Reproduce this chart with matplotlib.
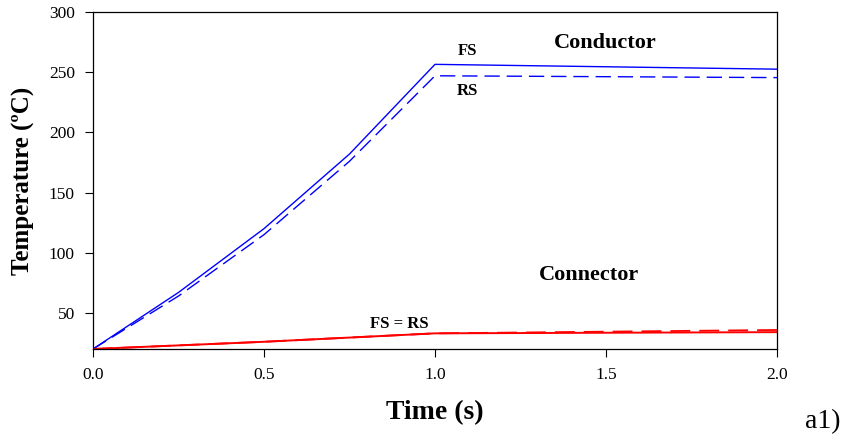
import numpy as np
import matplotlib
matplotlib.use("Agg")
import matplotlib.pyplot as plt

plt.rcParams['font.family'] = ['Liberation Serif', 'DejaVu Serif']

# 时间节点 (s)
time_s = [0.0, 0.25, 0.5, 0.75, 1.0, 2.0]
# 导体温度 (°C)
cond_fs = [20, 67, 120, 182, 256.5, 252.5]
cond_rs = [20, 64, 115, 176, 247, 245.5]
# 连接器温度 (°C)
conn_fs = [20, 23, 26, 29.5, 33, 34]
conn_rs = [20, 23, 26, 29.5, 33, 35.8]

fig = plt.figure(figsize=(8.49, 4.41), dpi=100)
ax = fig.add_axes([93/849, 1-349/441, (777-93)/849, (349-12)/441])

dash = (0, (11, 5))
ax.plot(time_s, cond_fs, color='#0000ff', lw=1.0)
ax.plot(time_s, cond_rs, color='#0000ff', lw=1.0, linestyle=dash)
ax.plot(time_s, conn_fs, color='#ff0000', lw=1.4)
ax.plot(time_s, conn_rs, color='#ff0000', lw=1.3, linestyle=dash)

ax.set_xlim(0, 2.0)
ax.set_ylim(20, 300)
ax.set_xticks([0.0, 0.5, 1.0, 1.5, 2.0])
ax.set_xticklabels(['0.0', '0.5', '1.0', '1.5', '2.0'])
ax.set_yticks([50, 100, 150, 200, 250, 300])
ax.tick_params(direction='out', length=6, width=0.8, labelsize=12.5, pad=7)
for s in ax.spines.values():
    s.set_linewidth(0.9)

ax.set_xlabel('Time (s)', fontsize=20, fontweight='bold', labelpad=12)
ax.set_ylabel('Temperature (ºC)', fontsize=18, fontweight='bold', labelpad=10)

ax.text(1.094, 267.6, 'FS', fontsize=12, fontweight='bold', ha='center', va='center')
ax.text(1.096, 234.4, 'RS', fontsize=12, fontweight='bold', ha='center', va='center')
ax.text(1.497, 274.2, 'Conductor', fontsize=16, fontweight='bold', ha='center', va='center')
ax.text(1.45, 81.5, 'Connector', fontsize=16, fontweight='bold', ha='center', va='center')
ax.text(0.895, 40.7, 'FS = RS', fontsize=12, fontweight='bold', ha='center', va='center')

fig.text(823/849, 1-428/441, 'a1)', fontsize=20, ha='center', va='baseline')

fig.savefig('out.png', dpi=100)
